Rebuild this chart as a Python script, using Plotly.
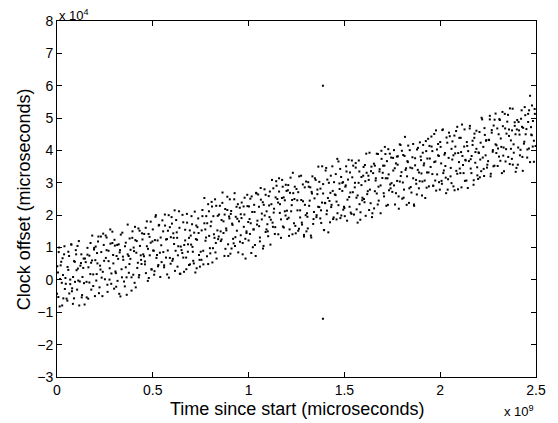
import plotly.graph_objects as go

# Time since start, in units of 1e9 microseconds (first batch of samples)
time_a = [
    0.002, 0.007, 0.011, 0.016, 0.022, 0.027, 0.031, 0.037, 0.041, 0.046,
    0.054, 0.059, 0.063, 0.069, 0.074, 0.078, 0.084, 0.089, 0.093, 0.098,
    0.102, 0.107, 0.111, 0.116, 0.122, 0.127, 0.131, 0.137, 0.141, 0.146,
    0.154, 0.159, 0.163, 0.169, 0.174, 0.178, 0.184, 0.189, 0.193, 0.198,
    0.202, 0.207, 0.211, 0.216, 0.222, 0.227, 0.231, 0.237, 0.241, 0.246,
    0.254, 0.259, 0.263, 0.269, 0.274, 0.278, 0.284, 0.289, 0.293, 0.298,
    0.302, 0.307, 0.311, 0.316, 0.322, 0.327, 0.331, 0.337, 0.341, 0.346,
    0.354, 0.359, 0.363, 0.369, 0.374, 0.378, 0.384, 0.389, 0.393, 0.398,
    0.402, 0.407, 0.411, 0.416, 0.422, 0.427, 0.431, 0.437, 0.441, 0.446,
    0.454, 0.459, 0.463, 0.469, 0.474, 0.478, 0.484, 0.489, 0.493, 0.498,
    0.502, 0.507, 0.511, 0.516, 0.522, 0.527, 0.531, 0.537, 0.541, 0.546,
    0.554, 0.559, 0.563, 0.569, 0.574, 0.578, 0.584, 0.589, 0.593, 0.598,
    0.602, 0.607, 0.611, 0.616, 0.622, 0.627, 0.631, 0.637, 0.641, 0.646,
    0.654, 0.659, 0.663, 0.669, 0.674, 0.678, 0.684, 0.689, 0.693, 0.698,
    0.702, 0.707, 0.711, 0.716, 0.722, 0.727, 0.731, 0.737, 0.741, 0.746,
    0.754, 0.759, 0.763, 0.769, 0.774, 0.778, 0.784, 0.789, 0.793, 0.798,
    0.802, 0.807, 0.811, 0.816, 0.822, 0.827, 0.831, 0.837, 0.841, 0.846,
    0.854, 0.859, 0.863, 0.869, 0.874, 0.878, 0.884, 0.889, 0.893, 0.898,
    0.902, 0.907, 0.911, 0.916, 0.922, 0.927, 0.931, 0.937, 0.941, 0.946,
    0.954, 0.959, 0.963, 0.969, 0.974, 0.978, 0.984, 0.989, 0.993, 0.998,
    1.002, 1.007, 1.011, 1.016, 1.022, 1.027, 1.031, 1.037, 1.041, 1.046,
    1.054, 1.059, 1.063, 1.069, 1.074, 1.078, 1.084, 1.089, 1.093, 1.098,
    1.102, 1.107, 1.111, 1.116, 1.122, 1.127, 1.131, 1.137, 1.141, 1.146,
    1.154, 1.159, 1.163, 1.169, 1.174, 1.178, 1.184, 1.189, 1.193, 1.198,
    1.202, 1.207, 1.211, 1.216, 1.222, 1.227, 1.231, 1.237, 1.241, 1.246,
    1.254, 1.259, 1.263, 1.269, 1.274, 1.278, 1.284, 1.289, 1.293, 1.298,
    1.302, 1.307, 1.311, 1.316, 1.322, 1.327, 1.331, 1.337, 1.341, 1.346,
    1.354, 1.359, 1.363, 1.369, 1.374, 1.378, 1.384, 1.389, 1.393, 1.398,
    1.402, 1.407, 1.411, 1.416, 1.422, 1.427, 1.431, 1.437, 1.441, 1.446,
    1.454, 1.459, 1.463, 1.469, 1.474, 1.478, 1.484, 1.489, 1.493, 1.498,
    1.502, 1.507, 1.511, 1.516, 1.522, 1.527, 1.531, 1.537, 1.541, 1.546,
    1.554, 1.559, 1.563, 1.569, 1.574, 1.578, 1.584, 1.589, 1.593, 1.598,
    1.602, 1.607, 1.611, 1.616, 1.622, 1.627, 1.631, 1.637, 1.641, 1.646,
    1.654, 1.659, 1.663, 1.669, 1.674, 1.678, 1.684, 1.689, 1.693, 1.698,
    1.702, 1.707, 1.711, 1.716, 1.722, 1.727, 1.731, 1.737, 1.741, 1.746,
    1.754, 1.759, 1.763, 1.769, 1.774, 1.778, 1.784, 1.789, 1.793, 1.798,
    1.802, 1.807, 1.811, 1.816, 1.822, 1.827, 1.831, 1.837, 1.841, 1.846,
    1.854, 1.859, 1.863, 1.869, 1.874, 1.878, 1.884, 1.889, 1.893, 1.898,
    1.902, 1.907, 1.911, 1.916, 1.922, 1.927, 1.931, 1.937, 1.941, 1.946,
    1.954, 1.959, 1.963, 1.969, 1.974, 1.978, 1.984, 1.989, 1.993, 1.998,
    2.002, 2.007, 2.011, 2.016, 2.022, 2.027, 2.031, 2.037, 2.041, 2.046,
    2.054, 2.059, 2.063, 2.069, 2.074, 2.078, 2.084, 2.089, 2.093, 2.098,
    2.102, 2.107, 2.111, 2.116, 2.122, 2.127, 2.131, 2.137, 2.141, 2.146,
    2.154, 2.159, 2.163, 2.169, 2.174, 2.178, 2.184, 2.189, 2.193, 2.198,
    2.202, 2.207, 2.211, 2.216, 2.222, 2.227, 2.231, 2.237, 2.241, 2.246,
    2.254, 2.259, 2.263, 2.269, 2.274, 2.278, 2.284, 2.289, 2.293, 2.298,
    2.302, 2.307, 2.311, 2.316, 2.322, 2.327, 2.331, 2.337, 2.341, 2.346,
    2.354, 2.359, 2.363, 2.369, 2.374, 2.378, 2.384, 2.389, 2.393, 2.398,
    2.402, 2.407, 2.411, 2.416, 2.422, 2.427, 2.431, 2.437, 2.441, 2.446,
    2.454, 2.459, 2.463, 2.469, 2.474, 2.478, 2.484, 2.489, 2.493, 2.498,
    1.388, 1.388,
]

# Clock offset, in units of 1e4 microseconds (first batch of samples)
offset_a = [
    0.42, -0.53, 1.00, 0.03, 0.56, -0.79, 0.15, 0.79, -0.28, -0.12,
    -0.64, 0.31, 0.74, -0.13, 1.10, -0.35, 0.09, -0.57, 0.56, 0.92,
    0.30, 1.05, -0.02, -0.79, 0.44, 0.79, -0.47, 0.37, -0.10, 0.66,
    -0.06, 0.99, -0.58, 0.75, 0.18, 0.53, 1.37, -0.19, 0.94, -0.50,
    1.03, 0.18, 0.51, 1.34, -0.23, 0.32, 0.86, -0.50, 1.43, 0.59,
    1.37, 0.92, -0.15, 0.58, 0.01, 1.56, 0.20, 1.14, 0.77, -0.27,
    1.06, 0.21, 0.74, -0.03, 1.10, 0.85, -0.51, 0.33, 1.46, 0.62,
    -0.20, 1.15, 0.08, 1.71, 0.74, 0.49, 0.93, -0.33, 1.30, 0.16,
    0.89, 1.64, -0.23, 1.20, 0.53, 0.08, 1.52, 0.76, 0.49, 1.25,
    0.73, 0.48, 1.61, 1.04, -0.03, 1.42, 0.76, 1.80, 0.33, 1.19,
    0.91, 0.16, 1.23, 2.00, 0.77, 0.42, 1.68, 0.84, 1.31, 0.55,
    1.50, 0.45, 2.02, 0.69, 1.26, 0.91, 0.07, 1.63, 0.50, 1.94,
    0.59, 1.44, 1.11, 0.28, 1.85, 1.30, 0.76, 2.12, 0.19, 1.03,
    0.83, 1.78, 0.25, 1.22, 0.69, 2.04, 1.10, 0.46, 1.53, 1.37,
    1.97, 1.02, 0.59, 1.46, 0.23, 1.68, 1.24, 1.90, 0.77, 0.41,
    0.62, 1.97, 0.90, 2.53, 1.56, 1.31, 1.75, 0.49, 2.12, 0.98,
    1.66, 2.41, 0.54, 1.97, 1.30, 0.85, 2.29, 1.53, 1.26, 2.02,
    1.50, 1.25, 2.38, 1.81, 0.74, 2.19, 1.53, 2.57, 1.10, 1.96,
    2.49, 2.04, 0.97, 1.70, 1.13, 2.68, 1.32, 2.26, 1.89, 0.85,
    2.23, 1.38, 1.91, 1.14, 2.27, 2.02, 0.66, 1.50, 2.63, 1.79,
    2.27, 1.42, 1.75, 2.58, 1.01, 1.56, 2.10, 0.74, 2.67, 1.83,
    2.26, 1.31, 2.84, 1.87, 2.40, 1.05, 1.99, 2.63, 1.56, 1.72,
    1.35, 2.30, 2.73, 1.86, 3.09, 1.64, 2.08, 1.42, 2.55, 2.91,
    2.39, 3.14, 2.07, 1.30, 2.53, 2.88, 1.62, 2.46, 1.99, 2.75,
    1.88, 2.93, 1.36, 2.69, 2.12, 2.47, 3.31, 1.75, 2.88, 1.44,
    2.46, 2.71, 1.58, 2.15, 3.22, 1.77, 2.43, 1.39, 2.86, 2.00,
    1.50, 1.95, 3.02, 2.29, 2.86, 1.31, 2.67, 1.73, 2.10, 3.14,
    1.94, 2.79, 2.26, 3.03, 1.90, 2.15, 3.51, 2.67, 1.54, 2.38,
    3.38, 2.03, 3.10, 1.47, 2.44, 2.69, 2.25, 3.51, 1.88, 3.02,
    2.62, 1.87, 3.74, 2.31, 2.98, 3.43, 1.99, 2.75, 3.02, 2.26,
    1.97, 2.92, 3.35, 2.48, 3.71, 2.26, 2.70, 2.04, 3.17, 3.53,
    2.86, 3.61, 2.54, 1.77, 3.00, 3.35, 2.09, 2.93, 2.46, 3.22,
    2.50, 3.55, 1.98, 3.31, 2.74, 3.09, 3.93, 2.37, 3.50, 2.06,
    3.59, 2.74, 3.07, 3.90, 2.33, 2.88, 3.42, 2.06, 3.99, 3.15,
    3.53, 2.58, 4.11, 3.14, 3.67, 2.32, 3.26, 3.90, 2.83, 2.99,
    3.77, 2.92, 3.45, 2.68, 3.81, 3.56, 2.20, 3.04, 4.17, 3.33,
    2.51, 3.86, 2.79, 4.42, 3.45, 3.20, 3.64, 2.38, 4.01, 2.87,
    3.45, 4.20, 2.33, 3.76, 3.09, 2.64, 4.08, 3.32, 3.05, 3.81,
    3.29, 3.04, 4.17, 3.60, 2.53, 3.98, 3.32, 4.36, 2.89, 3.75,
    4.43, 3.98, 2.91, 3.64, 3.07, 4.62, 3.26, 4.20, 3.83, 2.79,
    4.11, 3.06, 4.63, 3.30, 3.87, 3.52, 2.68, 4.24, 3.11, 4.55,
    3.20, 4.05, 3.72, 2.89, 4.46, 3.91, 3.37, 4.73, 2.80, 3.64,
    3.44, 4.39, 2.86, 3.83, 3.30, 4.65, 3.71, 3.07, 4.14, 3.98,
    4.68, 3.73, 3.30, 4.17, 2.94, 4.39, 3.95, 4.61, 3.48, 3.12,
    3.92, 3.17, 4.24, 5.01, 3.78, 3.43, 4.69, 3.85, 4.32, 3.56,
    4.32, 5.07, 3.20, 4.63, 3.96, 3.51, 4.95, 4.19, 3.92, 4.68,
    4.06, 3.81, 4.94, 4.37, 3.30, 4.75, 4.09, 5.13, 3.66, 4.52,
    5.10, 4.65, 3.58, 4.31, 3.74, 5.29, 3.93, 4.87, 4.50, 3.46,
    4.94, 4.09, 4.62, 3.85, 4.98, 4.73, 3.37, 4.21, 5.34, 4.50,
    3.78, 5.13, 4.06, 5.69, 4.72, 4.47, 4.91, 3.65, 5.28, 4.14,
    6.00, -1.20,
]

# Second batch of samples
time_b = [
    0.000, 0.005, 0.009, 0.014, 0.019, 0.025, 0.029, 0.033, 0.039, 0.044,
    0.050, 0.055, 0.059, 0.064, 0.069, 0.075, 0.079, 0.083, 0.089, 0.094,
    0.100, 0.105, 0.109, 0.114, 0.119, 0.125, 0.129, 0.133, 0.139, 0.144,
    0.150, 0.155, 0.159, 0.164, 0.169, 0.175, 0.179, 0.183, 0.189, 0.194,
    0.200, 0.205, 0.209, 0.214, 0.219, 0.225, 0.229, 0.233, 0.239, 0.244,
    0.250, 0.255, 0.259, 0.264, 0.269, 0.275, 0.279, 0.283, 0.289, 0.294,
    0.300, 0.305, 0.309, 0.314, 0.319, 0.325, 0.329, 0.333, 0.339, 0.344,
    0.350, 0.355, 0.359, 0.364, 0.369, 0.375, 0.379, 0.383, 0.389, 0.394,
    0.400, 0.405, 0.409, 0.414, 0.419, 0.425, 0.429, 0.433, 0.439, 0.444,
    0.450, 0.455, 0.459, 0.464, 0.469, 0.475, 0.479, 0.483, 0.489, 0.494,
    0.500, 0.505, 0.509, 0.514, 0.519, 0.525, 0.529, 0.533, 0.539, 0.544,
    0.550, 0.555, 0.559, 0.564, 0.569, 0.575, 0.579, 0.583, 0.589, 0.594,
    0.600, 0.605, 0.609, 0.614, 0.619, 0.625, 0.629, 0.633, 0.639, 0.644,
    0.650, 0.655, 0.659, 0.664, 0.669, 0.675, 0.679, 0.683, 0.689, 0.694,
    0.700, 0.705, 0.709, 0.714, 0.719, 0.725, 0.729, 0.733, 0.739, 0.744,
    0.750, 0.755, 0.759, 0.764, 0.769, 0.775, 0.779, 0.783, 0.789, 0.794,
    0.800, 0.805, 0.809, 0.814, 0.819, 0.825, 0.829, 0.833, 0.839, 0.844,
    0.850, 0.855, 0.859, 0.864, 0.869, 0.875, 0.879, 0.883, 0.889, 0.894,
    0.900, 0.905, 0.909, 0.914, 0.919, 0.925, 0.929, 0.933, 0.939, 0.944,
    0.950, 0.955, 0.959, 0.964, 0.969, 0.975, 0.979, 0.983, 0.989, 0.994,
    1.000, 1.005, 1.009, 1.014, 1.019, 1.025, 1.029, 1.033, 1.039, 1.044,
    1.050, 1.055, 1.059, 1.064, 1.069, 1.075, 1.079, 1.083, 1.089, 1.094,
    1.100, 1.105, 1.109, 1.114, 1.119, 1.125, 1.129, 1.133, 1.139, 1.144,
    1.150, 1.155, 1.159, 1.164, 1.169, 1.175, 1.179, 1.183, 1.189, 1.194,
    1.200, 1.205, 1.209, 1.214, 1.219, 1.225, 1.229, 1.233, 1.239, 1.244,
    1.250, 1.255, 1.259, 1.264, 1.269, 1.275, 1.279, 1.283, 1.289, 1.294,
    1.300, 1.305, 1.309, 1.314, 1.319, 1.325, 1.329, 1.333, 1.339, 1.344,
    1.350, 1.355, 1.359, 1.364, 1.369, 1.375, 1.379, 1.383, 1.389, 1.394,
    1.400, 1.405, 1.409, 1.414, 1.419, 1.425, 1.429, 1.433, 1.439, 1.444,
    1.450, 1.455, 1.459, 1.464, 1.469, 1.475, 1.479, 1.483, 1.489, 1.494,
    1.500, 1.505, 1.509, 1.514, 1.519, 1.525, 1.529, 1.533, 1.539, 1.544,
    1.550, 1.555, 1.559, 1.564, 1.569, 1.575, 1.579, 1.583, 1.589, 1.594,
    1.600, 1.605, 1.609, 1.614, 1.619, 1.625, 1.629, 1.633, 1.639, 1.644,
    1.650, 1.655, 1.659, 1.664, 1.669, 1.675, 1.679, 1.683, 1.689, 1.694,
    1.700, 1.705, 1.709, 1.714, 1.719, 1.725, 1.729, 1.733, 1.739, 1.744,
    1.750, 1.755, 1.759, 1.764, 1.769, 1.775, 1.779, 1.783, 1.789, 1.794,
    1.800, 1.805, 1.809, 1.814, 1.819, 1.825, 1.829, 1.833, 1.839, 1.844,
    1.850, 1.855, 1.859, 1.864, 1.869, 1.875, 1.879, 1.883, 1.889, 1.894,
    1.900, 1.905, 1.909, 1.914, 1.919, 1.925, 1.929, 1.933, 1.939, 1.944,
    1.950, 1.955, 1.959, 1.964, 1.969, 1.975, 1.979, 1.983, 1.989, 1.994,
    2.000, 2.005, 2.009, 2.014, 2.019, 2.025, 2.029, 2.033, 2.039, 2.044,
    2.050, 2.055, 2.059, 2.064, 2.069, 2.075, 2.079, 2.083, 2.089, 2.094,
    2.100, 2.105, 2.109, 2.114, 2.119, 2.125, 2.129, 2.133, 2.139, 2.144,
    2.150, 2.155, 2.159, 2.164, 2.169, 2.175, 2.179, 2.183, 2.189, 2.194,
    2.200, 2.205, 2.209, 2.214, 2.219, 2.225, 2.229, 2.233, 2.239, 2.244,
    2.250, 2.255, 2.259, 2.264, 2.269, 2.275, 2.279, 2.283, 2.289, 2.294,
    2.300, 2.305, 2.309, 2.314, 2.319, 2.325, 2.329, 2.333, 2.339, 2.344,
    2.350, 2.355, 2.359, 2.364, 2.369, 2.375, 2.379, 2.383, 2.389, 2.394,
    2.400, 2.405, 2.409, 2.414, 2.419, 2.425, 2.429, 2.433, 2.439, 2.444,
    2.450, 2.455, 2.459, 2.464, 2.469, 2.475, 2.479, 2.483, 2.489, 2.494,
]

offset_b = [
    -0.43, 0.23, 0.86, -0.82, 0.45, -0.09, 0.67, -0.57, 1.04, 0.06,
    -0.58, 0.40, 0.87, -0.42, 0.01, 1.09, -0.26, -0.74, 0.58, -0.06,
    0.79, -0.30, 0.35, 1.20, -0.05, 0.52, -0.54, 0.09, 0.66, -0.76,
    0.55, -0.54, 0.78, 0.39, -0.08, 1.14, -0.30, 0.60, 0.17, 0.99,
    0.61, -0.02, 0.83, 1.19, -0.41, 0.44, 1.34, 0.07, 0.25, 1.08,
    0.02, 0.68, 1.31, -0.37, 0.90, 0.36, 1.12, -0.12, 1.49, 0.51,
    1.24, 0.26, -0.21, 1.08, 0.65, -0.43, 0.92, 1.40, 0.08, 0.72,
    -0.05, 1.04, 0.39, -0.46, 0.79, 0.22, 1.28, 0.65, 0.08, 1.50,
    1.00, -0.09, 1.23, 0.84, 0.37, 1.59, 0.15, 1.05, 0.62, 1.44,
    0.79, 1.42, 0.57, 0.21, 1.81, 0.96, 0.06, 1.33, 1.15, 0.32,
    1.56, 0.90, 0.27, 1.95, 0.68, 1.22, 0.46, 1.70, 0.09, 1.07,
    1.84, 0.86, 0.39, 1.68, 1.25, 0.17, 1.52, 2.00, 0.68, 1.32,
    1.74, 0.65, 1.30, 2.15, 0.90, 1.47, 0.41, 1.04, 1.61, 0.19,
    0.92, 2.01, 0.69, 1.08, 1.55, 0.33, 1.77, 0.87, 1.30, 0.48,
    1.09, 1.72, 0.87, 0.51, 2.11, 1.26, 0.36, 1.63, 1.45, 0.62,
    0.87, 1.53, 2.16, 0.48, 1.75, 1.21, 1.97, 0.73, 2.34, 1.36,
    0.82, 1.80, 2.27, 0.98, 1.41, 2.49, 1.14, 0.66, 1.98, 1.34,
    2.29, 1.20, 1.85, 2.70, 1.45, 2.02, 0.96, 1.59, 2.16, 0.74,
    1.90, 0.81, 2.13, 1.74, 1.27, 2.49, 1.05, 1.95, 1.52, 2.34,
    1.81, 1.18, 2.03, 2.39, 0.79, 1.64, 2.54, 1.27, 1.45, 2.28,
    1.22, 1.88, 2.51, 0.83, 2.10, 1.56, 2.32, 1.08, 2.69, 1.71,
    2.64, 1.66, 1.19, 2.48, 2.05, 0.97, 2.32, 2.80, 1.48, 2.12,
    1.50, 2.59, 1.94, 1.09, 2.34, 1.77, 2.83, 2.20, 1.63, 3.05,
    2.50, 1.41, 2.73, 2.34, 1.87, 3.09, 1.65, 2.55, 2.12, 2.94,
    2.14, 2.77, 1.92, 1.56, 3.16, 2.31, 1.41, 2.68, 2.50, 1.67,
    2.81, 2.15, 1.52, 3.20, 1.93, 2.47, 1.71, 2.95, 1.34, 2.32,
    3.04, 2.06, 1.59, 2.88, 2.45, 1.37, 2.72, 3.20, 1.88, 2.52,
    3.09, 2.00, 2.65, 3.50, 2.25, 2.82, 1.76, 2.39, 2.96, 1.54,
    2.37, 3.46, 2.14, 2.53, 3.00, 1.78, 3.22, 2.32, 2.75, 1.93,
    2.64, 3.27, 2.42, 2.06, 3.66, 2.81, 1.91, 3.18, 3.00, 2.17,
    2.22, 2.88, 3.51, 1.83, 3.10, 2.56, 3.32, 2.08, 3.69, 2.71,
    2.02, 3.00, 3.47, 2.18, 2.61, 3.69, 2.34, 1.86, 3.18, 2.54,
    3.49, 2.40, 3.05, 3.90, 2.65, 3.22, 2.16, 2.79, 3.36, 1.94,
    3.30, 2.21, 3.53, 3.14, 2.67, 3.89, 2.45, 3.35, 2.92, 3.74,
    3.31, 2.68, 3.53, 3.89, 2.29, 3.14, 4.04, 2.77, 2.95, 3.78,
    2.72, 3.38, 4.01, 2.33, 3.60, 3.06, 3.82, 2.58, 4.19, 3.21,
    3.99, 3.01, 2.54, 3.83, 3.40, 2.32, 3.67, 4.15, 2.83, 3.47,
    2.70, 3.79, 3.14, 2.29, 3.54, 2.97, 4.03, 3.40, 2.83, 4.25,
    3.70, 2.61, 3.93, 3.54, 3.07, 4.29, 2.85, 3.75, 3.32, 4.14,
    3.49, 4.12, 3.27, 2.91, 4.51, 3.66, 2.76, 4.03, 3.85, 3.02,
    4.26, 3.60, 2.97, 4.65, 3.38, 3.92, 3.16, 4.40, 2.79, 3.77,
    4.44, 3.46, 2.99, 4.28, 3.85, 2.77, 4.12, 4.60, 3.28, 3.92,
    4.39, 3.30, 3.95, 4.80, 3.55, 4.12, 3.06, 3.69, 4.26, 2.84,
    3.67, 4.76, 3.44, 3.83, 4.30, 3.08, 4.52, 3.62, 4.05, 3.23,
    3.94, 4.57, 3.72, 3.36, 4.96, 4.11, 3.21, 4.48, 4.30, 3.47,
    3.67, 4.33, 4.96, 3.28, 4.55, 4.01, 4.77, 3.53, 5.14, 4.16,
    3.52, 4.50, 4.97, 3.68, 4.11, 5.19, 3.84, 3.36, 4.68, 4.04,
    4.89, 3.80, 4.45, 5.30, 4.05, 4.62, 3.56, 4.19, 4.76, 3.34,
    4.65, 3.56, 4.88, 4.49, 4.02, 5.24, 3.80, 4.70, 4.27, 5.09,
    4.66, 4.03, 4.88, 5.24, 3.64, 4.49, 5.39, 4.12, 4.30, 5.13,
]

x_ticks = [0, 0.5, 1, 1.5, 2, 2.5]
x_tick_labels = ["0", "0.5", "1", "1.5", "2", "2.5"]
y_ticks = [-3, -2, -1, 0, 1, 2, 3, 4, 5, 6, 7, 8]

FONT = "Liberation Sans, Arial, Helvetica, sans-serif"

fig = go.Figure()
fig.add_trace(go.Scatter(
    x=time_a + time_b, y=offset_a + offset_b, mode="markers",
    marker=dict(color="black", size=2, symbol="square", line=dict(width=0)),
    showlegend=False, hoverinfo="skip",
))

axis_common = dict(
    showgrid=False, zeroline=False, showline=True, linecolor="black",
    linewidth=1, mirror="ticks", ticks="inside", ticklen=5,
    tickcolor="black", tickwidth=1,
    tickfont=dict(family=FONT, size=14, color="black"),
)

fig.update_xaxes(range=[0, 2.5], tickvals=x_ticks, ticktext=x_tick_labels,
                 **axis_common)
fig.update_yaxes(range=[-3, 8], tickvals=y_ticks, **axis_common)

fig.update_layout(
    width=558, height=423,
    margin=dict(l=57, r=20, t=21, b=46),
    plot_bgcolor="white", paper_bgcolor="white",
    font=dict(family=FONT, color="black"),
    annotations=[
        dict(text="Time since start (microseconds)", xref="paper", yref="paper",
             x=0.5, y=-32 / 356, xanchor="center", yanchor="middle",
             showarrow=False, font=dict(size=18)),
        dict(text="Clock offset (microseconds)", xref="paper", yref="paper",
             x=-33 / 481, y=0.5, xanchor="center", yanchor="middle",
             textangle=-90, showarrow=False, font=dict(size=18)),
        dict(text="x 10<sup>4</sup>", xref="paper", yref="paper",
             x=0, y=1 + 6 / 356, xanchor="left", yanchor="middle",
             showarrow=False, font=dict(size=13)),
        dict(text="x 10<sup>9</sup>", xref="paper", yref="paper",
             x=1, y=-34 / 356, xanchor="right", yanchor="middle",
             showarrow=False, font=dict(size=13)),
    ],
)

fig.write_html("out.html", config={"displayModeBar": False},
               post_script="document.body.style.margin='0';")
